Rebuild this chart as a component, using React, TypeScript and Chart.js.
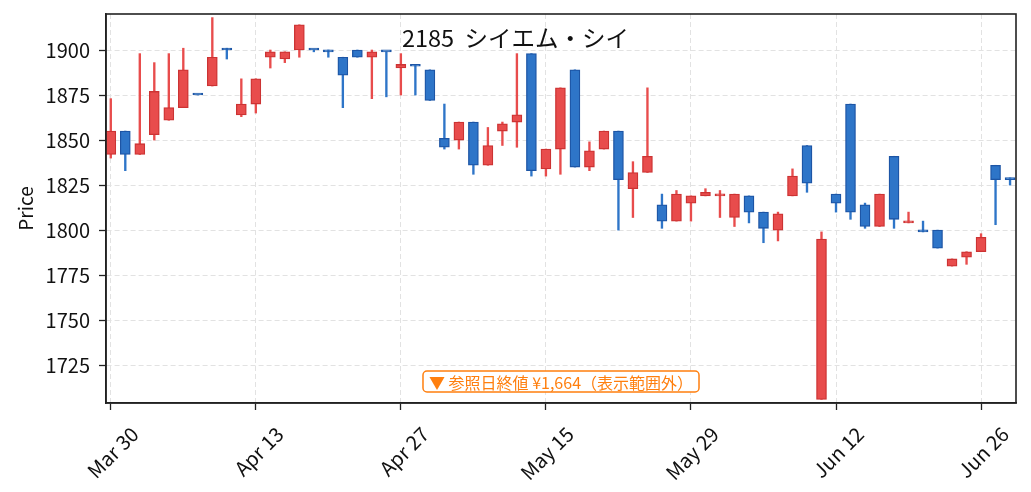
import React, { useEffect, useRef } from "react";
import { Chart, registerables } from "chart.js";

Chart.register(...registerables);

// ---- data ----
const dates = [
  "Mar 30", "Mar 31", "Apr 1", "Apr 2", "Apr 3", "Apr 6", "Apr 7", "Apr 8", "Apr 9", "Apr 10",
  "Apr 13", "Apr 14", "Apr 15", "Apr 16", "Apr 17", "Apr 20", "Apr 21", "Apr 22", "Apr 23", "Apr 24",
  "Apr 27", "Apr 28", "Apr 30", "May 1", "May 7", "May 8", "May 11", "May 12", "May 13", "May 14",
  "May 15", "May 18", "May 19", "May 20", "May 21", "May 22", "May 25", "May 26", "May 27", "May 28",
  "May 29", "Jun 1", "Jun 2", "Jun 3", "Jun 4", "Jun 5", "Jun 8", "Jun 9", "Jun 10", "Jun 11",
  "Jun 12", "Jun 15", "Jun 16", "Jun 17", "Jun 18", "Jun 19", "Jun 22", "Jun 23", "Jun 24", "Jun 25",
  "Jun 26", "Jun 29", "Jun 30",
];

const opens = [
  1842, 1855, 1842, 1853, 1861, 1868, 1875, 1880, 1901, 1864,
  1870, 1896, 1895, 1900, 1900, 1900, 1896, 1900, 1896, 1899,
  1890, 1892, 1889, 1851, 1850, 1860, 1836, 1855, 1860, 1898,
  1834, 1845, 1889, 1835, 1845, 1855, 1823, 1832, 1814, 1805,
  1815, 1819, 1819, 1807, 1819, 1810, 1800, 1819, 1847, 1706,
  1820, 1870, 1814, 1802, 1841, 1804, 1800, 1800, 1780, 1785,
  1788, 1836, 1828,
];

const highs = [
  1873, 1855, 1898, 1893, 1898, 1901, 1875, 1918, 1901, 1884,
  1884, 1900, 1899, 1914, 1900, 1900, 1896, 1900, 1900, 1899,
  1898, 1892, 1889, 1870, 1860, 1860, 1857, 1860, 1898, 1898,
  1845, 1879, 1889, 1849, 1855, 1855, 1838, 1879, 1820, 1822,
  1819, 1823, 1822, 1820, 1819, 1810, 1810, 1834, 1847, 1799,
  1820, 1870, 1815, 1820, 1841, 1810, 1805, 1800, 1784, 1788,
  1798, 1836, 1829,
];

const lows = [
  1840, 1833, 1842, 1850, 1861, 1868, 1875, 1880, 1895, 1863,
  1865, 1890, 1893, 1896, 1899, 1896, 1868, 1896, 1873, 1874,
  1875, 1875, 1872, 1845, 1845, 1831, 1836, 1847, 1846, 1830,
  1830, 1831, 1835, 1833, 1845, 1800, 1807, 1832, 1801, 1805,
  1805, 1819, 1807, 1802, 1804, 1793, 1794, 1819, 1821, 1706,
  1810, 1806, 1801, 1802, 1801, 1804, 1799, 1790, 1780, 1781,
  1788, 1803, 1825,
];

const closes = [
  1855, 1842, 1848, 1877, 1868, 1889, 1875, 1896, 1900, 1870,
  1884, 1899, 1899, 1914, 1900, 1899, 1886, 1896, 1899, 1899,
  1892, 1891, 1872, 1846, 1860, 1836, 1847, 1859, 1864, 1833,
  1845, 1879, 1835, 1844, 1855, 1828, 1832, 1841, 1805, 1820,
  1819, 1821, 1820, 1820, 1810, 1801, 1809, 1830, 1826, 1795,
  1815, 1810, 1802, 1820, 1806, 1805, 1799, 1790, 1784, 1788,
  1796, 1828, 1828,
];

const xTickIndices = [0, 10, 20, 30, 40, 50, 60];
const yTickValues = [1725, 1750, 1775, 1800, 1825, 1850, 1875, 1900];
const chartTitle = "2185  シイエム・シイ";
const yAxisTitle = "Price";
const refNote = "▼ 参照日終値 ¥1,664（表示範囲外）";

// ---- styles ----
const FONT = "'Noto Sans CJK JP', 'Noto Sans', sans-serif";
const UP_FILL = "#e84c4c";
const UP_EDGE = "#cc3333";
const DOWN_FILL = "#2e75c8";
const DOWN_EDGE = "#1d55a5";
const GRID = "#e2e2e2";
const AXIS = "#222222";
const TEXT = "#111111";
const NOTE = "#ff7f0e";

const framePlugin = {
  id: "frameAndText",
  afterDraw(chart: any) {
    const { ctx, chartArea } = chart;
    const { left, top, right, bottom } = chartArea;
    ctx.save();
    // frame (all four spines)
    ctx.strokeStyle = AXIS;
    ctx.lineWidth = 1.6;
    ctx.setLineDash([]);
    ctx.strokeRect(left, top, right - left, bottom - top);

    // title (figure centered)
    ctx.fillStyle = TEXT;
    ctx.font = `23.5px ${FONT}`;
    ctx.textAlign = "center";
    ctx.textBaseline = "alphabetic";
    ctx.fillText(chartTitle, chart.width / 2, top + 33);

    // reference note box
    ctx.font = `16px ${FONT}`;
    const tw = ctx.measureText(refNote).width;
    const cx = (left + right) / 2;
    const boxH = 21;
    const boxW = tw + 12;
    const by = bottom - 11 - boxH;
    const bx = cx - boxW / 2;
    ctx.beginPath();
    (ctx as any).roundRect(bx, by, boxW, boxH, 4);
    ctx.fillStyle = "#ffffff";
    ctx.fill();
    ctx.strokeStyle = NOTE;
    ctx.lineWidth = 1.5;
    ctx.stroke();
    ctx.fillStyle = NOTE;
    ctx.textBaseline = "middle";
    ctx.fillText(refNote, cx, by + boxH / 2 + 1);
    ctx.restore();
  },
};

export default function App() {
  const ref = useRef<HTMLCanvasElement>(null);

  useEffect(() => {
    if (!ref.current) return;
    const isUp = closes.map((c, i) => c > opens[i]);
    const wickData = dates.map((_, i) => ({ x: i, y: [lows[i], highs[i]] }));
    const bodyData = dates.map((_, i) => ({
      x: i,
      y: [Math.min(opens[i], closes[i]), Math.max(opens[i], closes[i])],
    }));

    Chart.defaults.font.family = FONT;

    const chart = new Chart(ref.current, {
      type: "bar",
      data: {
        datasets: [
          {
            label: "wick",
            data: wickData as any,
            backgroundColor: isUp.map((u) => (u ? UP_FILL : DOWN_FILL)),
            borderWidth: 0,
            barThickness: 1.7,
            grouped: false,
            order: 2,
          } as any,
          {
            label: "body",
            data: bodyData as any,
            backgroundColor: isUp.map((u) => (u ? UP_FILL : DOWN_FILL)),
            borderColor: isUp.map((u) => (u ? UP_EDGE : DOWN_EDGE)),
            borderWidth: 1.3,
            borderSkipped: false,
            barThickness: 10,
            minBarLength: 2,
            grouped: false,
            order: 1,
          } as any,
        ],
      },
      options: {
        animation: false,
        responsive: false,
        layout: { padding: { top: 14, right: 15, left: 0, bottom: 0 } },
        plugins: {
          legend: { display: false },
          tooltip: { enabled: false },
          title: { display: false },
        },
        scales: {
          x: {
            type: "linear",
            min: -0.33,
            max: 62.41,
            offset: false,
            grid: {
              offset: false,
              color: GRID,
              lineWidth: 1,
              tickColor: AXIS,
              tickLength: 7,
              tickWidth: 1.3,
              tickBorderDash: [],
            } as any,
            border: { display: true, color: AXIS, width: 1.6, dash: [5, 3] },
            afterBuildTicks: (s: any) => {
              s.ticks = xTickIndices.map((v) => ({ value: v }));
            },
            afterFit: (s: any) => {
              s.height = 89;
              s.paddingLeft = 0;
              s.paddingRight = 0;
            },
            ticks: {
              autoSkip: false,
              minRotation: 45,
              maxRotation: 45,
              labelOffset: 24,
              padding: 12,
              color: TEXT,
              font: { size: 20 },
              callback: (v: any) => dates[v as number] ?? "",
            },
          },
          y: {
            type: "linear",
            min: 1704,
            max: 1920,
            beginAtZero: false,
            grid: {
              color: GRID,
              lineWidth: 1,
              tickColor: AXIS,
              tickLength: 7,
              tickWidth: 1.3,
              tickBorderDash: [],
            } as any,
            border: { display: true, color: AXIS, width: 1.6, dash: [5, 3] },
            afterBuildTicks: (s: any) => {
              s.ticks = yTickValues.map((v) => ({ value: v }));
            },
            afterFit: (s: any) => {
              s.width = 106;
              s.paddingTop = 0;
              s.paddingBottom = 0;
            },
            ticks: {
              padding: 9,
              color: TEXT,
              font: { size: 20 },
              callback: (v: any) => String(v),
            },
            title: {
              display: true,
              text: yAxisTitle,
              color: TEXT,
              font: { size: 19 },
              padding: { top: 14, bottom: 0 },
            },
          },
        },
      },
      plugins: [framePlugin],
    });
    return () => chart.destroy();
  }, []);

  return (
    <div
      style={{
        position: "fixed",
        left: 0,
        top: 0,
        width: 1031,
        height: 492,
        background: "#ffffff",
      }}
    >
      <canvas
        ref={ref}
        width={1031}
        height={492}
        style={{ display: "block", width: 1031, height: 492 }}
      />
    </div>
  );
}
